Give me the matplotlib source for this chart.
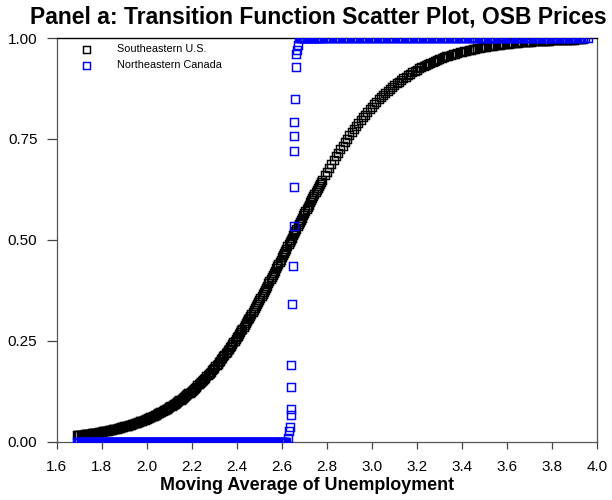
import matplotlib.pyplot as plt

plt.rcParams['font.family'] = ['Liberation Sans', 'DejaVu Sans']

# moving average of unemployment, fine grid (1.690 - 2.780)
ma_lo = [1.690, 1.695, 1.700, 1.705, 1.710, 1.715, 1.720, 1.725, 1.730, 1.735,
         1.740, 1.745, 1.750, 1.755, 1.760, 1.765, 1.770, 1.775, 1.780, 1.785,
         1.790, 1.795, 1.800, 1.805, 1.810, 1.815, 1.820, 1.825, 1.830, 1.835,
         1.840, 1.845, 1.850, 1.855, 1.860, 1.865, 1.870, 1.875, 1.880, 1.885,
         1.890, 1.895, 1.900, 1.905, 1.910, 1.915, 1.920, 1.925, 1.930, 1.935,
         1.940, 1.945, 1.950, 1.955, 1.960, 1.965, 1.970, 1.975, 1.980, 1.985,
         1.990, 1.995, 2.000, 2.005, 2.010, 2.015, 2.020, 2.025, 2.030, 2.035,
         2.040, 2.045, 2.050, 2.055, 2.060, 2.065, 2.070, 2.075, 2.080, 2.085,
         2.090, 2.095, 2.100, 2.105, 2.110, 2.115, 2.120, 2.125, 2.130, 2.135,
         2.140, 2.145, 2.150, 2.155, 2.160, 2.165, 2.170, 2.175, 2.180, 2.185,
         2.190, 2.195, 2.200, 2.205, 2.210, 2.215, 2.220, 2.225, 2.230, 2.235,
         2.240, 2.245, 2.250, 2.255, 2.260, 2.265, 2.270, 2.275, 2.280, 2.285,
         2.290, 2.295, 2.300, 2.305, 2.310, 2.315, 2.320, 2.325, 2.330, 2.335,
         2.340, 2.345, 2.350, 2.355, 2.360, 2.365, 2.370, 2.375, 2.380, 2.385,
         2.390, 2.395, 2.400, 2.405, 2.410, 2.415, 2.420, 2.425, 2.430, 2.435,
         2.440, 2.445, 2.450, 2.455, 2.460, 2.465, 2.470, 2.475, 2.480, 2.485,
         2.490, 2.495, 2.500, 2.505, 2.510, 2.515, 2.520, 2.525, 2.530, 2.535,
         2.540, 2.545, 2.550, 2.555, 2.560, 2.565, 2.570, 2.575, 2.580, 2.585,
         2.590, 2.595, 2.600, 2.605, 2.610, 2.615, 2.620, 2.625, 2.630, 2.635,
         2.640, 2.645, 2.650, 2.655, 2.660, 2.665, 2.670, 2.675, 2.680, 2.685,
         2.690, 2.695, 2.700, 2.705, 2.710, 2.715, 2.720, 2.725, 2.730, 2.735,
         2.740, 2.745, 2.750, 2.755, 2.760, 2.765, 2.770, 2.775, 2.780]

# coarser grid above (2.79 - 3.94)
ma_hi = [2.79, 2.80, 2.81, 2.82, 2.83, 2.84, 2.85, 2.86, 2.87, 2.88,
         2.89, 2.90, 2.91, 2.92, 2.93, 2.94, 2.95, 2.96, 2.97, 2.98,
         2.99, 3.00, 3.01, 3.02, 3.03, 3.04, 3.05, 3.06, 3.07, 3.08,
         3.09, 3.10, 3.11, 3.12, 3.13, 3.14, 3.15, 3.16, 3.17, 3.18,
         3.19, 3.20, 3.21, 3.22, 3.23, 3.24, 3.25, 3.26, 3.27, 3.28,
         3.29, 3.30, 3.31, 3.32, 3.33, 3.34, 3.35, 3.36, 3.37, 3.38,
         3.39, 3.40, 3.41, 3.42, 3.43, 3.44, 3.45, 3.46, 3.47, 3.48,
         3.49, 3.50, 3.51, 3.52, 3.53, 3.54, 3.55, 3.56, 3.57, 3.58,
         3.59, 3.60, 3.61, 3.62, 3.63, 3.64, 3.65, 3.66, 3.67, 3.68,
         3.69, 3.70, 3.71, 3.72, 3.73, 3.74, 3.75, 3.76, 3.77, 3.78,
         3.79, 3.80, 3.81, 3.82, 3.83, 3.84, 3.85, 3.86, 3.87, 3.88,
         3.89, 3.90, 3.91, 3.92, 3.93, 3.94]

# transition function, Southeastern U.S.
se_lo = [0.0151, 0.0154, 0.0157, 0.0161, 0.0164, 0.0168, 0.0172, 0.0176, 0.0179, 0.0183,
         0.0187, 0.0191, 0.0195, 0.0200, 0.0204, 0.0209, 0.0213, 0.0218, 0.0222, 0.0227,
         0.0232, 0.0237, 0.0242, 0.0248, 0.0253, 0.0259, 0.0264, 0.0270, 0.0275, 0.0282,
         0.0288, 0.0294, 0.0300, 0.0307, 0.0313, 0.0320, 0.0327, 0.0334, 0.0341, 0.0349,
         0.0356, 0.0364, 0.0372, 0.0380, 0.0388, 0.0396, 0.0404, 0.0413, 0.0421, 0.0430,
         0.0439, 0.0449, 0.0458, 0.0468, 0.0478, 0.0488, 0.0498, 0.0509, 0.0519, 0.0531,
         0.0542, 0.0554, 0.0565, 0.0577, 0.0589, 0.0602, 0.0614, 0.0627, 0.0639, 0.0653,
         0.0666, 0.0680, 0.0694, 0.0709, 0.0723, 0.0738, 0.0753, 0.0769, 0.0784, 0.0800,
         0.0816, 0.0833, 0.0850, 0.0868, 0.0885, 0.0903, 0.0921, 0.0940, 0.0959, 0.0979,
         0.0998, 0.1018, 0.1038, 0.1059, 0.1079, 0.1101, 0.1122, 0.1145, 0.1167, 0.1190,
         0.1213, 0.1237, 0.1261, 0.1286, 0.1310, 0.1336, 0.1361, 0.1388, 0.1414, 0.1441,
         0.1468, 0.1496, 0.1524, 0.1553, 0.1582, 0.1612, 0.1641, 0.1672, 0.1702, 0.1734,
         0.1765, 0.1798, 0.1830, 0.1864, 0.1897, 0.1931, 0.1965, 0.2001, 0.2036, 0.2072,
         0.2108, 0.2145, 0.2182, 0.2220, 0.2258, 0.2297, 0.2336, 0.2376, 0.2416, 0.2457,
         0.2497, 0.2539, 0.2581, 0.2624, 0.2666, 0.2710, 0.2753, 0.2798, 0.2842, 0.2887,
         0.2932, 0.2978, 0.3024, 0.3071, 0.3117, 0.3165, 0.3212, 0.3261, 0.3309, 0.3358,
         0.3407, 0.3457, 0.3507, 0.3558, 0.3608, 0.3659, 0.3710, 0.3762, 0.3813, 0.3865,
         0.3917, 0.3970, 0.4023, 0.4076, 0.4129, 0.4183, 0.4236, 0.4290, 0.4344, 0.4398,
         0.4452, 0.4507, 0.4561, 0.4616, 0.4670, 0.4725, 0.4780, 0.4835, 0.4890, 0.4945,
         0.5000, 0.5055, 0.5110, 0.5165, 0.5220, 0.5275, 0.5330, 0.5384, 0.5439, 0.5494,
         0.5548, 0.5602, 0.5656, 0.5710, 0.5764, 0.5817, 0.5871, 0.5924, 0.5977, 0.6030,
         0.6083, 0.6135, 0.6187, 0.6239, 0.6290, 0.6342, 0.6392, 0.6443, 0.6493]

se_hi = [0.6593, 0.6691, 0.6788, 0.6883, 0.6977, 0.7068, 0.7159, 0.7247, 0.7334, 0.7419,
         0.7503, 0.7584, 0.7664, 0.7742, 0.7817, 0.7892, 0.7964, 0.8035, 0.8103, 0.8170,
         0.8234, 0.8298, 0.8359, 0.8418, 0.8476, 0.8532, 0.8586, 0.8639, 0.8690, 0.8739,
         0.8787, 0.8833, 0.8877, 0.8921, 0.8962, 0.9002, 0.9041, 0.9079, 0.9115, 0.9150,
         0.9184, 0.9216, 0.9247, 0.9277, 0.9306, 0.9334, 0.9361, 0.9386, 0.9412, 0.9435,
         0.9458, 0.9481, 0.9502, 0.9522, 0.9542, 0.9561, 0.9579, 0.9596, 0.9613, 0.9628,
         0.9644, 0.9659, 0.9673, 0.9687, 0.9700, 0.9712, 0.9724, 0.9736, 0.9747, 0.9758,
         0.9768, 0.9778, 0.9787, 0.9796, 0.9805, 0.9813, 0.9821, 0.9828, 0.9836, 0.9843,
         0.9850, 0.9856, 0.9862, 0.9868, 0.9874, 0.9879, 0.9884, 0.9889, 0.9894, 0.9898,
         0.9903, 0.9907, 0.9911, 0.9915, 0.9919, 0.9922, 0.9925, 0.9928, 0.9931, 0.9934,
         0.9937, 0.9940, 0.9942, 0.9945, 0.9947, 0.9949, 0.9951, 0.9954, 0.9956, 0.9958,
         0.9960, 0.9961, 0.9963, 0.9964, 0.9966, 0.9967]

# transition function, Northeastern Canada
ne_mid_x = [2.628, 2.631, 2.636, 2.639, 2.639, 2.640, 2.640, 2.644, 2.648, 2.652,
            2.652, 2.655, 2.655, 2.656, 2.658, 2.662, 2.665, 2.668, 2.672]
ne_mid_y = [0.009, 0.025, 0.037, 0.066, 0.081, 0.135, 0.189, 0.341, 0.436, 0.535,
            0.631, 0.719, 0.756, 0.792, 0.850, 0.927, 0.961, 0.971, 0.983]
ne_low_x = ma_lo[:187]                          # flat at 0 up to 2.620
ne_high_x = ma_lo[197:] + ma_hi + [3.95, 3.96]  # flat at 1 from 2.675

ma = ma_lo + ma_hi
se_us = se_lo + se_hi
ne_x = ne_low_x + ne_mid_x + ne_high_x
ne_y = [0.0] * len(ne_low_x) + ne_mid_y + [1.0] * len(ne_high_x)

fig = plt.figure(figsize=(6.12, 5.0), dpi=100)
ax = fig.add_axes([0.093, 0.117, 0.882, 0.807])

ax.plot(ma, se_us, ls='none', marker='s', ms=5.6, mfc='none', mec='black',
        mew=1.05, label='Southeastern U.S.', zorder=2)
ax.plot(ne_x, ne_y, ls='none', marker='s', ms=5.6, mfc='none', mec='#0000ff',
        mew=1.05, label='Northeastern Canada', zorder=3)

ax.set_xlim(1.6, 4.0)
ax.set_ylim(0, 1.0)
ax.set_xticks([1.6, 1.8, 2.0, 2.2, 2.4, 2.6, 2.8, 3.0, 3.2, 3.4, 3.6, 3.8, 4.0])
ax.set_xticklabels(['1.6', '1.8', '2.0', '2.2', '2.4', '2.6', '2.8', '3.0',
                    '3.2', '3.4', '3.6', '3.8', '4.0'])
ax.set_yticks([0, 0.25, 0.5, 0.75, 1.0])
ax.set_yticklabels(['0.00', '0.25', '0.50', '0.75', '1.00'])
ax.tick_params(axis='y', direction='out', length=7, width=0.9, color='#444444',
               labelsize=11, pad=7)
ax.tick_params(axis='x', direction='out', length=5, width=0.9, color='#444444',
               labelsize=11, pad=8)

for side in ['left', 'bottom', 'right']:
    ax.spines[side].set_color('#555555')
    ax.spines[side].set_linewidth(0.9)
ax.spines['top'].set_color('black')
ax.spines['top'].set_linewidth(1.0)

ax.legend(loc='upper left', bbox_to_anchor=(0.035, 0.995), frameon=False,
          fontsize=7.8, handletextpad=2.4, labelspacing=0.55,
          borderaxespad=0.0, handlelength=1.0, markerscale=0.9)

fig.text(0.520, 0.966, 'Panel a: Transition Function Scatter Plot, OSB Prices',
         ha='center', va='center', fontsize=16.5, fontweight='bold')
fig.text(0.502, 0.028, 'Moving Average of Unemployment', ha='center',
         va='center', fontsize=12.9, fontweight='bold')

fig.savefig('out.png', dpi=100)
